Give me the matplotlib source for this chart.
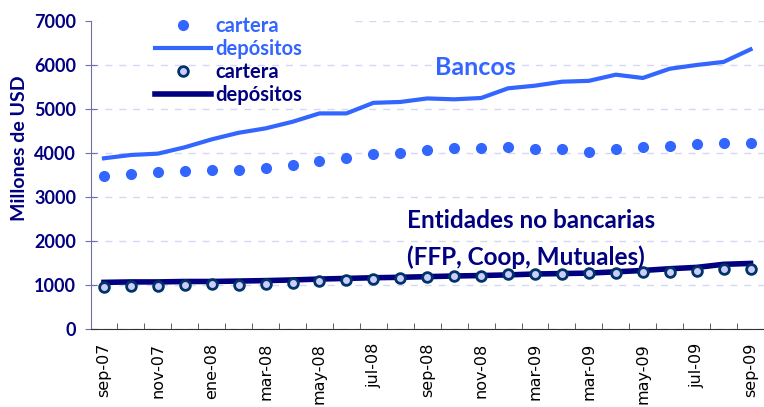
import matplotlib.pyplot as plt
from matplotlib.patches import Rectangle
from matplotlib.ticker import FixedLocator

# months sep-07 .. sep-09 (monthly), labels every second month as in the source
month_labels = ['sep-07', 'nov-07', 'ene-08', 'mar-08', 'may-08', 'jul-08', 'sep-08',
                'nov-08', 'mar-09', 'mar-09', 'may-09', 'jul-09', 'sep-09']

# Bancos (millones de USD)
bancos_depositos = [3880, 3955, 3985, 4130, 4310, 4460, 4560, 4710, 4900, 4900,
                    5140, 5160, 5240, 5220, 5250, 5470, 5530, 5620, 5640, 5780,
                    5705, 5915, 6000, 6070, 6355]
bancos_cartera = [3475, 3515, 3560, 3600, 3615, 3615, 3650, 3735, 3820, 3895,
                  3970, 4000, 4075, 4105, 4120, 4130, 4100, 4085, 4025, 4090,
                  4135, 4165, 4195, 4220, 4235]

# Entidades no bancarias (FFP, Coop, Mutuales)
nobanc_depositos = [1060, 1070, 1070, 1080, 1080, 1090, 1100, 1115, 1135, 1150,
                    1165, 1175, 1190, 1205, 1215, 1230, 1250, 1260, 1270, 1300,
                    1330, 1370, 1400, 1470, 1490]
nobanc_cartera = [955, 975, 985, 1005, 1015, 1005, 1030, 1055, 1085, 1115,
                  1145, 1150, 1175, 1195, 1210, 1250, 1250, 1250, 1280, 1265,
                  1290, 1290, 1320, 1355, 1370]

x = list(range(len(bancos_depositos)))

light_blue = '#3366ff'
navy = '#000080'

plt.rcParams['font.family'] = ['Lato', 'DejaVu Sans']

fig = plt.figure(figsize=(7.64, 4.07), dpi=100)
ax = fig.add_axes([90.5 / 764, 78 / 407, 673.5 / 764, 308 / 407])

h1, = ax.plot(x, bancos_cartera, 'o', color=light_blue, markersize=7, zorder=3)
h2, = ax.plot(x, bancos_depositos, '-', color=light_blue, linewidth=3, zorder=3)
h4, = ax.plot(x, nobanc_depositos, '-', color=navy, linewidth=4, zorder=3)
h3, = ax.plot(x, nobanc_cartera, 'o', markerfacecolor='#ccccff', markeredgecolor='#003366',
              markeredgewidth=2, markersize=7, linestyle='none', zorder=4)

ax.set_xlim(-0.5, len(x) - 0.5)
ax.set_ylim(0, 7000)
ax.set_yticks(range(0, 7001, 1000))
ax.yaxis.grid(True, linestyle=(0, (5, 5)), color='#d6d6f5', linewidth=1)
ax.set_axisbelow(True)

# white block behind the legend hides the grid there
ax.add_patch(Rectangle((0, 0.86), 0.393, 0.15, transform=ax.transAxes,
                       facecolor='white', edgecolor='none', zorder=1))

ax.set_xticks(x[::2])
ax.set_xticklabels(month_labels, rotation=90, fontsize=11.5, family='DejaVu Sans')
ax.xaxis.set_minor_locator(FixedLocator([i - 0.5 for i in range(len(x) + 1)]))
ax.tick_params(axis='x', which='major', length=0, pad=10)
ax.tick_params(axis='x', which='minor', direction='in', length=4.5, color='#444444')
ax.tick_params(axis='y', direction='inout', length=8.5, color='#7070a8', labelcolor=navy,
               labelsize=13, pad=6)
for lab in ax.get_yticklabels():
    lab.set_fontweight('bold')

for s in ['top', 'right']:
    ax.spines[s].set_visible(False)
ax.spines['left'].set_color('#7070a8')
ax.spines['bottom'].set_color('#333333')

ax.set_ylabel('Millones de USD', fontsize=14, fontweight='bold', color=navy)
ax.yaxis.set_label_coords(-0.093, 0.588)

ax.text(13.8, 5950, 'Bancos', fontsize=18, fontweight='bold', color=light_blue,
        ha='center', va='center')
ax.text(11.26, 2460, 'Entidades no bancarias', fontsize=17.5, fontweight='bold',
        color=navy, ha='left', va='center')
ax.text(11.26, 1640, '(FFP, Coop, Mutuales)', fontsize=17.5, fontweight='bold',
        color=navy, ha='left', va='center')

leg = ax.legend([h1, h2, h3, h4], ['cartera', 'depósitos', 'cartera', 'depósitos'],
                loc='upper left', bbox_to_anchor=(155 / 764, 1 - 16 / 407),
                bbox_transform=fig.transFigure, frameon=False, numpoints=1,
                handlelength=2.8, handletextpad=0.2, labelspacing=0.15,
                borderpad=0, borderaxespad=0,
                prop={'size': 14.5, 'weight': 'bold'},
                labelcolor=[light_blue, light_blue, navy, navy])

fig.savefig('out.png', dpi=100)
